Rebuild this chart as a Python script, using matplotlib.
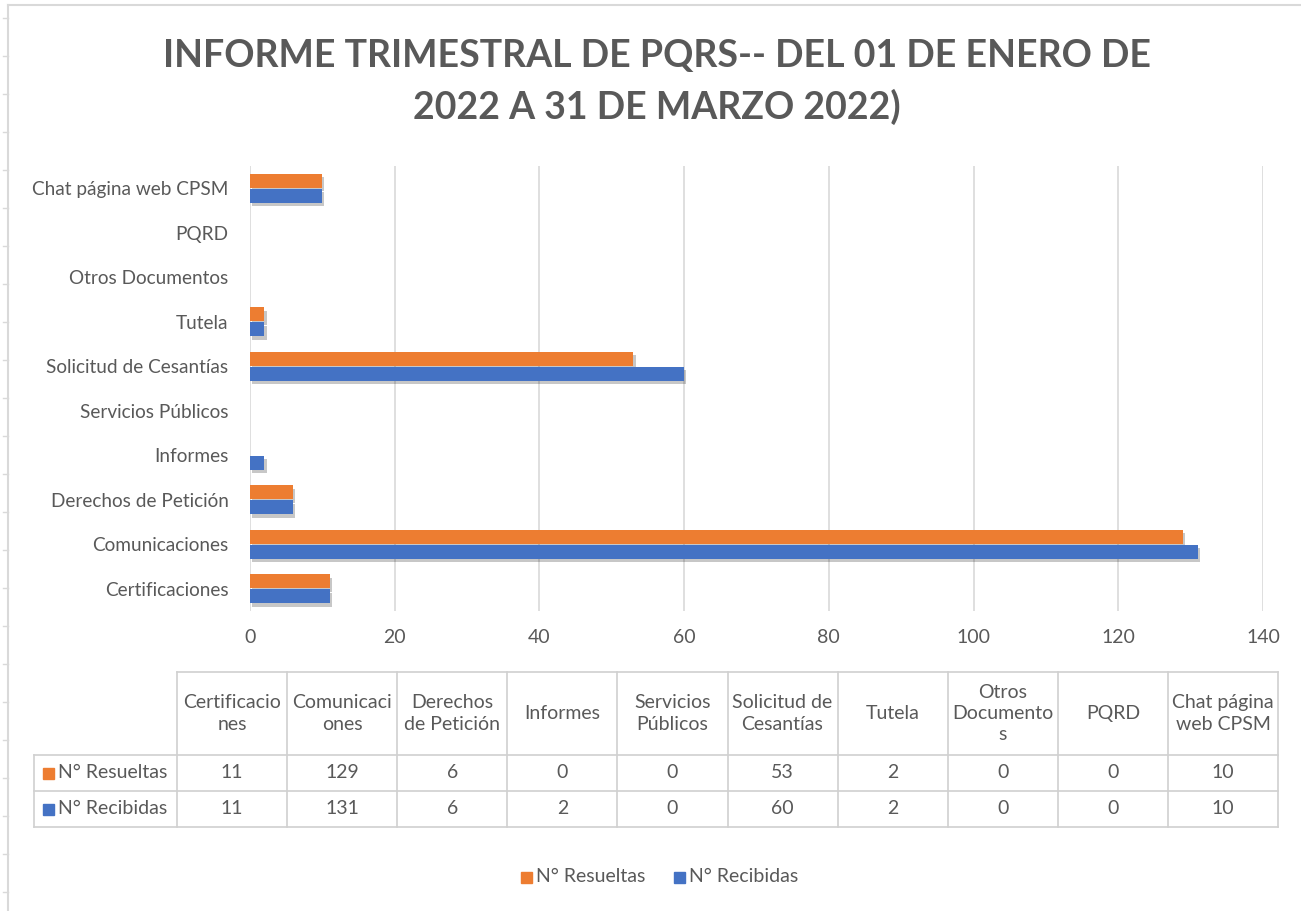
import matplotlib
matplotlib.use("Agg")
import matplotlib.pyplot as plt
import numpy as np
from matplotlib import patheffects as pe
from matplotlib.lines import Line2D
from matplotlib.patches import Rectangle

# ---------------- data ----------------
categories = ["Certificaciones", "Comunicaciones", "Derechos de Petición", "Informes",
              "Servicios Públicos", "Solicitud de Cesantías", "Tutela",
              "Otros Documentos", "PQRD", "Chat página web CPSM"]
header_labels = ["Certificacio\nnes", "Comunicaci\nones", "Derechos\nde Petición", "Informes",
                 "Servicios\nPúblicos", "Solicitud de\nCesantías", "Tutela",
                 "Otros\nDocumento\ns", "PQRD", "Chat página\nweb CPSM"]
resueltas = [11, 129, 6, 0, 0, 53, 2, 0, 0, 10]
recibidas = [11, 131, 6, 2, 0, 60, 2, 0, 0, 10]
series_names = ["N° Resueltas", "N° Recibidas"]
xticks = [0, 20, 40, 60, 80, 100, 120, 140]
title = "INFORME TRIMESTRAL DE PQRS-- DEL 01 DE ENERO DE\n2022 A 31 DE MARZO 2022)"

# ---------------- style ----------------
ORANGE = "#ED7D31"
BLUE = "#4472C4"
TXT = "#595959"
GRID = "#D9D9D9"
FONT = "Lato"
FS = 14
plt.rcParams["font.family"] = [FONT, "DejaVu Sans"]

W, H = 1301, 911
fig = plt.figure(figsize=(W / 100, H / 100), dpi=100)
fig.patch.set_facecolor("white")


def fx(px):
    return px / W


def fy(py):
    return 1 - py / H


# frame of the chart object
fig.add_artist(Line2D([fx(8), fx(8)], [fy(5), fy(911)], color=GRID, lw=1.5))
fig.add_artist(Line2D([fx(8), fx(1301)], [fy(5), fy(5)], color=GRID, lw=1.5))
for k in range(24):
    yy = 18 + 38 * k
    if yy < 905:
        fig.add_artist(Line2D([fx(3), fx(8)], [fy(yy), fy(yy)], color=GRID, lw=1))

# title
fig.text(fx(657), fy(82), title, ha="center", va="center", fontsize=27,
         fontweight="bold", color=TXT, linespacing=1.5)

# ---------------- bar chart ----------------
ax = fig.add_axes([fx(250), fy(611), fx(1263) - fx(250), fy(166) - fy(611)])
y = np.arange(len(categories))
h = 0.31
off = 0.17
shadow = [pe.SimplePatchShadow(offset=(1.5, -2.5), shadow_rgbFace="#000000", alpha=0.22),
          pe.Normal()]
ax.barh(y + off, resueltas, height=h, color=ORANGE, path_effects=shadow, zorder=3)
ax.barh(y - off, recibidas, height=h, color=BLUE, path_effects=shadow, zorder=3)
ax.set_xlim(0, 140)
ax.set_ylim(-0.5, len(categories) - 0.5)
ax.set_xticks(xticks)
ax.set_yticks(y)
ax.set_yticklabels(categories)
ax.xaxis.grid(True, color=GRID, lw=1.2, zorder=0)
ax.set_axisbelow(True)
for s in ax.spines.values():
    s.set_visible(False)
ax.tick_params(axis="both", length=0, colors=TXT, labelsize=FS)
ax.tick_params(axis="y", pad=15.5, labelsize=13.7)
ax.tick_params(axis="x", pad=13)

# ---------------- data table ----------------
col_x = [177 + 110.1 * i for i in range(11)]
row_y = [672, 755, 791, 827]
left_x = 34
TBL = "#D0D0D0"
fig.add_artist(Line2D([fx(col_x[0]), fx(col_x[-1])], [fy(row_y[0])] * 2, color=TBL, lw=1.2))
for ry in row_y[1:]:
    fig.add_artist(Line2D([fx(left_x), fx(col_x[-1])], [fy(ry)] * 2, color=TBL, lw=1.2))
for cx in col_x:
    fig.add_artist(Line2D([fx(cx)] * 2, [fy(row_y[0]), fy(row_y[-1])], color=TBL, lw=1.2))
fig.add_artist(Line2D([fx(left_x)] * 2, [fy(row_y[1]), fy(row_y[-1])], color=TBL, lw=1.2))

for i, lab in enumerate(header_labels):
    cx = (col_x[i] + col_x[i + 1]) / 2
    fig.text(fx(cx), fy((row_y[0] + row_y[1]) / 2), lab, ha="center", va="center",
             fontsize=FS, color=TXT, linespacing=1.3)

for r, (vals, name, colr) in enumerate([(resueltas, series_names[0], ORANGE),
                                        (recibidas, series_names[1], BLUE)]):
    cy = (row_y[r + 1] + row_y[r + 2]) / 2
    fig.add_artist(Rectangle((fx(43), fy(cy + 5.5)), fx(11), 11 / H,
                             transform=fig.transFigure, color=colr))
    fig.text(fx(58), fy(cy), name, ha="left", va="center", fontsize=FS, color=TXT)
    for i, v in enumerate(vals):
        cx = (col_x[i] + col_x[i + 1]) / 2
        fig.text(fx(cx), fy(cy), str(v), ha="center", va="center", fontsize=FS, color=TXT)

# ---------------- legend ----------------
leg_y = 877
for (sx, name, colr) in [(521, series_names[0], ORANGE), (674, series_names[1], BLUE)]:
    fig.add_artist(Rectangle((fx(sx), fy(leg_y + 5.5)), fx(11), 11 / H,
                             transform=fig.transFigure, color=colr))
    fig.text(fx(sx + 15), fy(leg_y), name, ha="left", va="center", fontsize=FS, color=TXT)

fig.savefig("out.png", dpi=100, facecolor="white")
